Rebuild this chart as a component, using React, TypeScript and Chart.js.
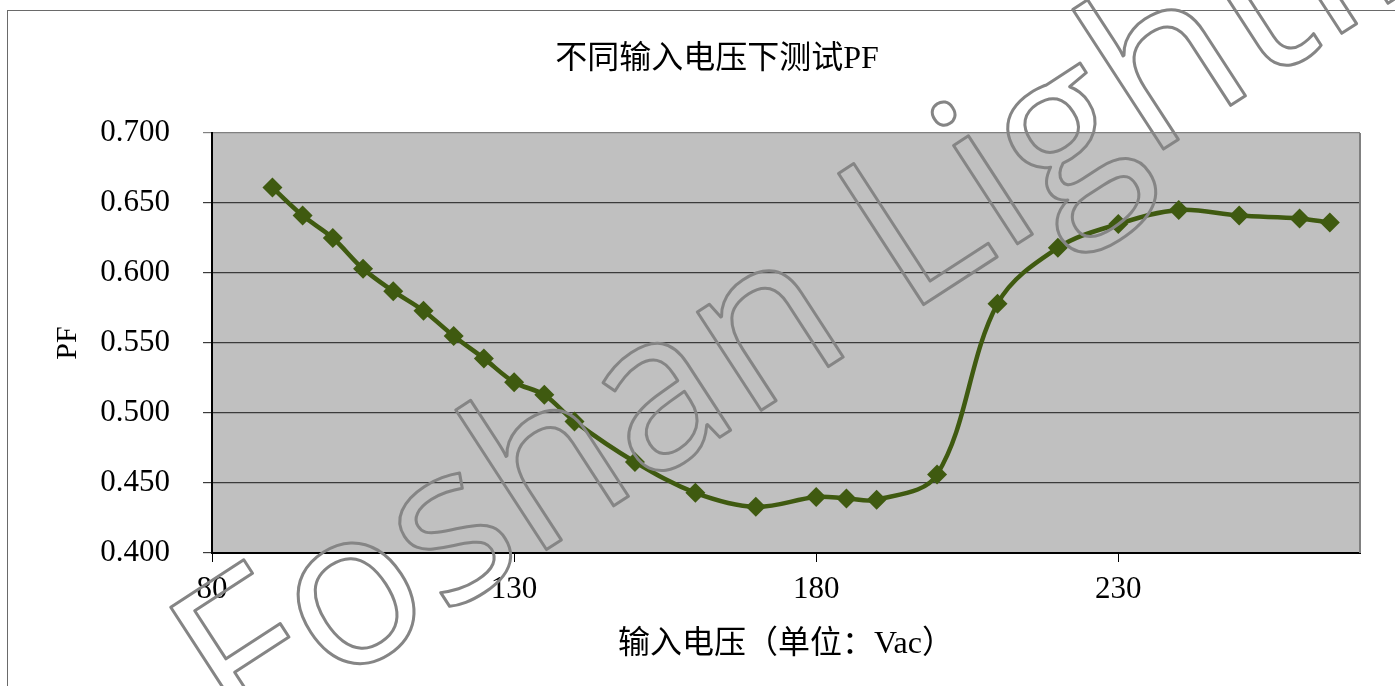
import React, { useEffect, useRef } from 'react';
import { Chart, registerables } from 'chart.js';

Chart.register(...registerables);

const voltages = [90, 95, 100, 105, 110, 115, 120, 125, 130, 135, 140, 150, 160, 170, 180, 185, 190, 200, 210, 220, 230, 240, 250, 260, 265];
const pfValues = [0.661, 0.641, 0.625, 0.603, 0.587, 0.573, 0.555, 0.539, 0.522, 0.513, 0.494, 0.465, 0.443, 0.433, 0.44, 0.439, 0.438, 0.456, 0.578, 0.618, 0.635, 0.645, 0.641, 0.639, 0.636];
const xTickValues = [80, 130, 180, 230];
const yTickValues = [0.4, 0.45, 0.5, 0.55, 0.6, 0.65, 0.7];
const chartTitle = '不同输入电压下测试PF';
const xAxisTitle = '输入电压（单位：Vac）';
const yAxisTitle = 'PF';
const watermarkText = 'Foshan Lighting';

const SERIF = "'Liberation Serif', 'Noto Sans CJK SC', serif";
const LINE_COLOR = '#3F5A10';

const decorPlugin = {
  id: 'decor',
  beforeDraw(chart: any) {
    const { ctx, chartArea } = chart;
    ctx.save();
    ctx.fillStyle = '#ffffff';
    ctx.fillRect(0, 0, chart.width, chart.height);
    ctx.fillStyle = '#C0C0C0';
    ctx.fillRect(chartArea.left, chartArea.top, chartArea.right - chartArea.left, chartArea.bottom - chartArea.top);
    ctx.strokeStyle = '#6a6a6a';
    ctx.lineWidth = 1;
    ctx.strokeRect(7.5, 10.5, chart.width + 20, chart.height + 20);
    // chart title
    ctx.fillStyle = '#000';
    ctx.font = `32px ${SERIF}`;
    ctx.textAlign = 'center';
    ctx.textBaseline = 'middle';
    ctx.fillText(chartTitle, 717, 60);
    ctx.restore();
  },
  beforeDatasetsDraw(chart: any) {
    const { ctx, chartArea } = chart;
    ctx.save();
    ctx.strokeStyle = '#808080';
    ctx.lineWidth = 2;
    ctx.beginPath();
    ctx.moveTo(chartArea.right, chartArea.top);
    ctx.lineTo(chartArea.right, chartArea.bottom);
    ctx.stroke();
    ctx.restore();
  },
  afterDraw(chart: any) {
    const { ctx } = chart;
    ctx.save();
    ctx.translate(238, 750);
    ctx.rotate((-33 * Math.PI) / 180);
    ctx.font = "219px 'Open Sans'";
    ctx.textAlign = 'left';
    ctx.textBaseline = 'alphabetic';
    ctx.lineWidth = 3;
    ctx.lineJoin = 'round';
    ctx.strokeStyle = '#858585';
    ctx.strokeText(watermarkText, 0, 0);
    ctx.restore();
  },
};

export default function App() {
  const canvasRef = useRef<HTMLCanvasElement | null>(null);

  useEffect(() => {
    if (!canvasRef.current) return;
    const chart = new Chart(canvasRef.current, {
      type: 'line',
      data: {
        datasets: [
          {
            label: 'PF',
            data: voltages.map((v, i) => ({ x: v, y: pfValues[i] })),
            borderColor: LINE_COLOR,
            backgroundColor: LINE_COLOR,
            borderWidth: 4.5,
            pointStyle: 'rectRot',
            pointRadius: 10,
            pointBorderWidth: 0,
            pointBackgroundColor: LINE_COLOR,
            tension: 0.35,
          },
        ],
      },
      options: {
        responsive: false,
        animation: false,
        layout: { padding: { left: 0, right: 35, top: 133, bottom: 0 } },
        plugins: {
          legend: { display: false },
          tooltip: { enabled: false },
          title: { display: false },
        },
        scales: {
          x: {
            type: 'linear',
            min: 80,
            max: 270,
            afterBuildTicks: (s: any) => {
              s.ticks = xTickValues.map((v) => ({ value: v }));
            },
            afterFit: (s: any) => {
              s.height = 133;
            },
            ticks: {
              color: '#000',
              font: { family: SERIF, size: 31 },
              padding: 9,
              maxRotation: 0,
              autoSkip: false,
            },
            grid: { drawOnChartArea: false, drawTicks: true, tickLength: 9, color: '#000' },
            border: { color: '#000', width: 2 },
            title: {
              display: true,
              text: xAxisTitle,
              color: '#000',
              font: { family: SERIF, size: 32 },
              padding: { top: 0, bottom: 22 },
            },
          },
          y: {
            min: 0.4,
            max: 0.7,
            afterBuildTicks: (s: any) => {
              s.ticks = yTickValues.map((v) => ({ value: v }));
            },
            afterFit: (s: any) => {
              s.width = 212;
            },
            ticks: {
              color: '#000',
              font: { family: SERIF, size: 31 },
              padding: 33,
              callback: (v: any) => Number(v).toFixed(3),
            },
            grid: {
              tickLength: 9,
              lineWidth: 1.2,
              color: (c: any) => (c.tick && Math.abs(c.tick.value - 0.7) < 1e-9 ? '#808080' : '#3a3a3a'),
            },
            border: { color: '#000', width: 2 },
            title: {
              display: true,
              text: yAxisTitle,
              color: '#000',
              font: { family: SERIF, size: 30 },
              padding: { top: 50, bottom: 0 },
            },
          },
        },
      },
      plugins: [decorPlugin],
    } as any);
    return () => chart.destroy();
  }, []);

  return (
    <div style={{ position: 'fixed', left: 0, top: 0, width: 1395, height: 686, background: '#fff' }}>
      <canvas ref={canvasRef} width={1395} height={686} style={{ width: 1395, height: 686, display: 'block' }} />
    </div>
  );
}
